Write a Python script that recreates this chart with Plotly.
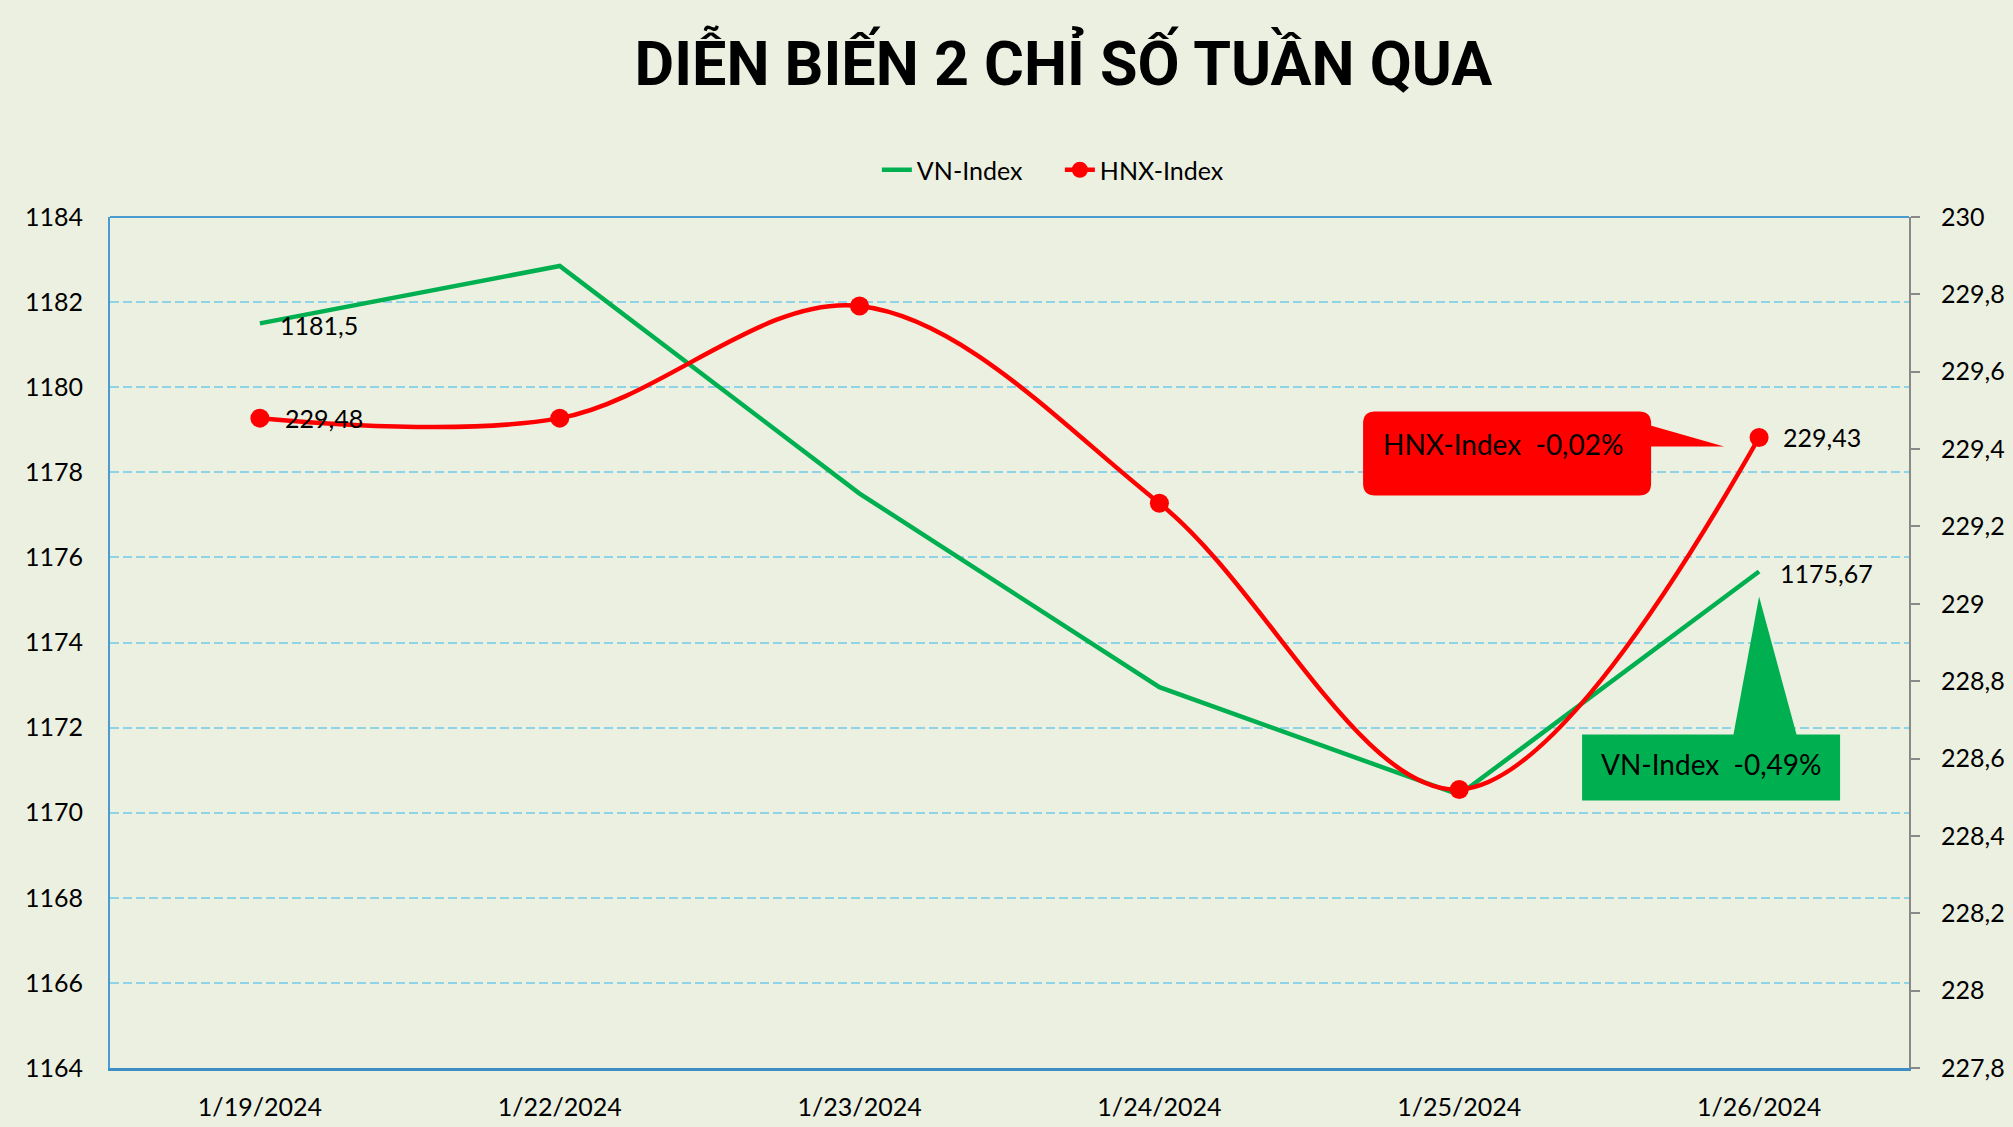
import plotly.graph_objects as go

# ---------------- data ----------------
dates = ["1/19/2024", "1/22/2024", "1/23/2024", "1/24/2024", "1/25/2024", "1/26/2024"]
vn_index = [1181.5, 1182.85, 1177.5, 1172.95, 1170.42, 1175.67]
hnx_index = [229.48, 229.48, 229.77, 229.26, 228.52, 229.43]
left_ticks = [1164, 1166, 1168, 1170, 1172, 1174, 1176, 1178, 1180, 1182, 1184]
right_ticks = [227.8, 228.0, 228.2, 228.4, 228.6, 228.8, 229.0, 229.2, 229.4, 229.6, 229.8, 230.0]
title_text = "DIỄN BIẾN 2 CHỈ SỐ TUẦN QUA"
vn_name = "VN-Index"
hnx_name = "HNX-Index"
vn_change = "VN-Index  -0,49%"
hnx_change = "HNX-Index  -0,02%"

# ---------------- style ----------------
BG = "#ECF0E0"
GREEN = "#00B050"
RED = "#FF0000"
GRID = "#8ED4E6"
BLUE = "#4A9BD0"
FONT = "Lato"


def fmt(v):
    return f"{v:g}".replace(".", ",")


fig = go.Figure()
fig.add_trace(go.Scatter(
    x=dates, y=vn_index, name=vn_name, mode="lines",
    line=dict(color=GREEN, width=4.5), yaxis="y",
))
fig.add_trace(go.Scatter(
    x=dates, y=hnx_index, name=hnx_name, mode="lines+markers",
    line=dict(color=RED, width=4.5, shape="spline", smoothing=1.0),
    marker=dict(color=RED, size=19), yaxis="y2",
))

annotations = []
# data labels on first and last points
for i, dx in ((0, 18), (len(dates) - 1, 19)):
    annotations.append(dict(x=dates[i], y=vn_index[i], xref="x", yref="y",
                            text=fmt(vn_index[i]), showarrow=False, xanchor="left",
                            yanchor="middle", xshift=dx, yshift=-2,
                            font=dict(family=FONT, size=25, color="black")))
for i, dx in ((0, 23), (len(dates) - 1, 22)):
    annotations.append(dict(x=dates[i], y=hnx_index[i], xref="x", yref="y2",
                            text=fmt(hnx_index[i]), showarrow=False, xanchor="left",
                            yanchor="middle", xshift=dx, yshift=0,
                            font=dict(family=FONT, size=25, color="black")))

# callout texts
annotations.append(dict(x=dates[-1], y=hnx_index[-1], xref="x", yref="y2",
                        text=hnx_change, showarrow=False, xanchor="left", yanchor="middle",
                        xshift=-378, yshift=-7,
                        font=dict(family=FONT, size=28, color="black")))
annotations.append(dict(x=dates[-1], y=vn_index[-1], xref="x", yref="y",
                        text=vn_change, showarrow=False, xanchor="center", yanchor="middle",
                        xshift=-48, yshift=-193,
                        font=dict(family=FONT, size=28, color="black")))

# callout shapes (pixel offsets anchored at last points)
L, R, T, B, r = -396, -108, 26, -58, 12
red_box = (f"M {L+r},{T} L {R-r},{T} Q {R},{T} {R},{T-r} L {R},{B+r} Q {R},{B} {R-r},{B} "
           f"L {L+r},{B} Q {L},{B} {L},{B+r} L {L},{T-r} Q {L},{T} {L+r},{T} Z")
red_ptr = f"M {R-4},13 L -35,-9 L {R-4},-9 Z"
green_box = "M -177,-163 L 81,-163 L 81,-229 L -177,-229 Z"
green_ptr = "M -26,-165 L 0,-25 L 38,-165 Z"

shapes = []
for path, col, yr, yv in ((red_box, RED, "y2", hnx_index[-1]),
                          (red_ptr, RED, "y2", hnx_index[-1]),
                          (green_box, GREEN, "y", vn_index[-1]),
                          (green_ptr, GREEN, "y", vn_index[-1])):
    shapes.append(dict(type="path", path=path, xref="x", yref=yr,
                       xsizemode="pixel", ysizemode="pixel",
                       xanchor=dates[-1], yanchor=yv,
                       fillcolor=col, line=dict(width=0), layer="above"))
# top border of plot
shapes.append(dict(type="line", xref="paper", yref="paper", x0=0, x1=1, y0=1, y1=1,
                   line=dict(color=BLUE, width=2), layer="below"))

fig.update_layout(
    width=2013, height=1127,
    paper_bgcolor=BG, plot_bgcolor=BG,
    margin=dict(l=110, r=104, t=217, b=59, autoexpand=False),
    title=dict(text=title_text, x=0.530, xanchor="center", xref="paper",
               y=1 - 64 / 1127, yref="container", yanchor="middle",
               font=dict(family="Roboto", size=61, color="black", weight="bold")),
    legend=dict(orientation="h", x=0.528, xanchor="center", xref="paper",
                y=1 - 170 / 1127, yref="container", yanchor="middle",
                entrywidth=138, entrywidthmode="pixels",
                font=dict(family=FONT, size=25, color="black"),
                bgcolor="rgba(0,0,0,0)"),
    showlegend=True,
    xaxis=dict(type="category", range=[-0.5, len(dates) - 0.5], automargin=False,
               showgrid=False, showline=True, linecolor="#3E8EC6", linewidth=3,
               ticks="", ticklabelstandoff=15,
               tickfont=dict(family=FONT, size=25, color="black"), zeroline=False),
    yaxis=dict(range=[left_ticks[0], left_ticks[-1]], tickvals=left_ticks, automargin=False,
               ticktext=[fmt(v) for v in left_ticks],
               showgrid=True, gridcolor=GRID, gridwidth=1.5, griddash="9px,4px",
               showline=True, linecolor=BLUE, linewidth=2, ticks="",
               ticklabelstandoff=20, zeroline=False,
               tickfont=dict(family=FONT, size=25, color="black")),
    yaxis2=dict(range=[right_ticks[0], right_ticks[-1]], tickvals=right_ticks, automargin=False,
                ticktext=[fmt(v) for v in right_ticks],
                overlaying="y", side="right", showgrid=False,
                showline=True, linecolor="#898989", linewidth=2,
                ticks="outside", ticklen=9, tickcolor="#898989", tickwidth=2,
                ticklabelstandoff=16, zeroline=False,
                tickfont=dict(family=FONT, size=25, color="black")),
    annotations=annotations,
    shapes=shapes,
)

fig.write_html(
    "out.html",
    config={"displayModeBar": False},
    post_script="document.body.style.margin='0';document.documentElement.style.overflow='hidden';",
)
